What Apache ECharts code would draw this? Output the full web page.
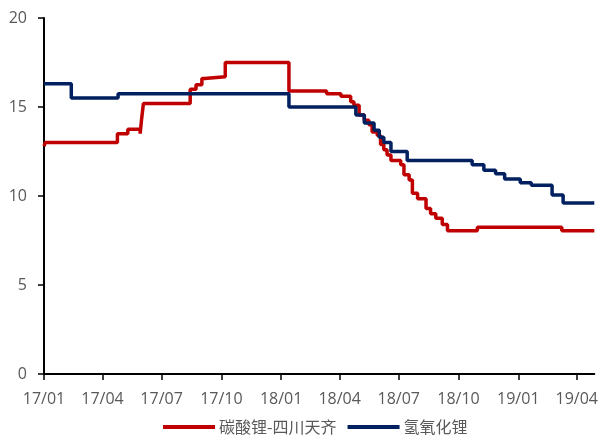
<!DOCTYPE html>
<html>
<head>
<meta charset="utf-8">
<script src="https://cdn.jsdelivr.net/npm/echarts@6/dist/echarts.min.js"></script>
<style>
  html, body { margin: 0; padding: 0; background: #fff; }
  #chart { width: 601px; height: 437px; }
</style>
</head>
<body>
<div id="chart"></div>
<script>
// Price change points: each value holds from its date until the next date.
const carbonateDates = [
  '2017-01-01', '2017-01-03', '2017-04-24', '2017-05-10', '2017-05-29', '2017-05-31',
  '2017-06-03', '2017-08-14', '2017-08-23', '2017-09-01', '2017-09-05', '2017-10-07',
  '2018-01-13', '2018-03-12', '2018-04-03', '2018-04-18', '2018-04-23', '2018-05-01',
  '2018-05-09', '2018-05-16', '2018-05-21', '2018-05-29', '2018-06-03', '2018-06-08',
  '2018-06-13', '2018-06-19', '2018-07-04', '2018-07-09', '2018-07-17', '2018-07-22',
  '2018-07-30', '2018-08-12', '2018-08-19', '2018-08-27', '2018-09-06', '2018-09-14',
  '2018-10-30', '2019-03-09', '2019-04-28'
];
const carbonateValues = [
  12.8, 13.0, 13.5, 13.75, 13.5, 14.25,
  15.2, 16.0, 16.25, 16.6, 16.7, 17.5,
  15.9, 15.75, 15.6, 15.3, 15.1, 14.55,
  14.25, 14.0, 13.6, 13.4, 12.9, 12.6,
  12.3, 12.0, 11.75, 11.2, 10.9, 10.15,
  9.85, 9.3, 9.0, 8.75, 8.4, 8.05,
  8.25, 8.05, 8.05
];

const hydroxideDates = [
  '2017-01-01', '2017-02-12', '2017-04-25', '2018-01-13', '2018-04-26', '2018-05-09',
  '2018-05-24', '2018-06-01', '2018-06-08', '2018-06-19', '2018-07-14', '2018-10-22',
  '2018-11-09', '2018-11-27', '2018-12-11', '2019-01-04', '2019-01-21', '2019-02-22',
  '2019-03-11', '2019-04-28'
];
const hydroxideValues = [
  16.3, 15.5, 15.75, 15.0, 14.55, 14.1,
  13.7, 13.3, 13.0, 12.5, 12.0, 11.75,
  11.45, 11.25, 10.95, 10.75, 10.6, 10.05,
  9.6, 9.6
];

const seriesNames = ['碳酸锂-四川天齐', '氢氧化锂'];
const tickMonths = [
  '2017-01-01', '2017-04-01', '2017-07-01', '2017-10-01', '2018-01-01',
  '2018-04-01', '2018-07-01', '2018-10-01', '2019-01-01', '2019-04-01'
];
const yTicks = [0, 5, 10, 15, 20];

// The x axis counts days from the first date; labels are mapped back to YY/MM.
const DAY = 86400000;
function utc(s) {
  const p = s.split('-').map(Number);
  return Date.UTC(p[0], p[1] - 1, p[2]);
}
const origin = utc(carbonateDates[0]);
function dayOf(s) { return Math.round((utc(s) - origin) / DAY); }
function pairs(dates, values) {
  return dates.map((d, i) => [dayOf(d), values[i]]);
}
const tickDays = tickMonths.map(dayOf);
function labelOf(day) {
  const d = new Date(origin + day * DAY);
  return String(d.getUTCFullYear()).slice(2) + '/' + String(d.getUTCMonth() + 1).padStart(2, '0');
}

const axisColor = '#000';
const labelColor = '#595959';

const chart = echarts.init(document.getElementById('chart'), null, { renderer: 'canvas' });
chart.setOption({
  animation: false,
  backgroundColor: '#fff',
  grid: { left: 44, right: 5, top: 18, bottom: 63, containLabel: false },
  legend: {
    top: 419,
    left: 163,
    padding: 0,
    itemWidth: 52,
    itemHeight: 4,
    itemGap: 11,
    icon: 'rect',
    textStyle: { color: labelColor, fontSize: 16, fontFamily: 'Noto Sans CJK SC', padding: [0, 0, 0, -1] },
    data: seriesNames
  },
  xAxis: {
    type: 'value',
    min: 0,
    max: dayOf(carbonateDates[carbonateDates.length - 1]),
    axisLine: { show: true, onZero: false, lineStyle: { color: axisColor, width: 2 } },
    axisTick: { show: true, length: 6, customValues: tickDays, lineStyle: { color: axisColor, width: 1.5 } },
    axisLabel: {
      customValues: tickDays,
      color: labelColor,
      fontSize: 16,
      fontFamily: 'Open Sans',
      margin: 17,
      showMaxLabel: true,
      formatter: function (v) { return labelOf(v); }
    },
    splitLine: { show: false }
  },
  yAxis: {
    type: 'value',
    min: yTicks[0],
    max: yTicks[yTicks.length - 1],
    interval: 5,
    axisLine: { show: true, lineStyle: { color: axisColor, width: 2 } },
    axisTick: { show: true, length: 6, lineStyle: { color: axisColor, width: 1.5 } },
    axisLabel: { color: labelColor, fontSize: 16, fontFamily: 'Open Sans', margin: 17 },
    splitLine: { show: false }
  },
  series: [
    {
      name: seriesNames[0],
      type: 'line',
      step: 'end',
      showSymbol: false,
      symbol: 'none',
      color: '#C00000',
      lineStyle: { color: '#C00000', width: 3.5 },
      data: pairs(carbonateDates, carbonateValues)
    },
    {
      name: seriesNames[1],
      type: 'line',
      step: 'end',
      showSymbol: false,
      symbol: 'none',
      color: '#002060',
      lineStyle: { color: '#002060', width: 3.5 },
      data: pairs(hydroxideDates, hydroxideValues)
    }
  ]
});
</script>
</body>
</html>
